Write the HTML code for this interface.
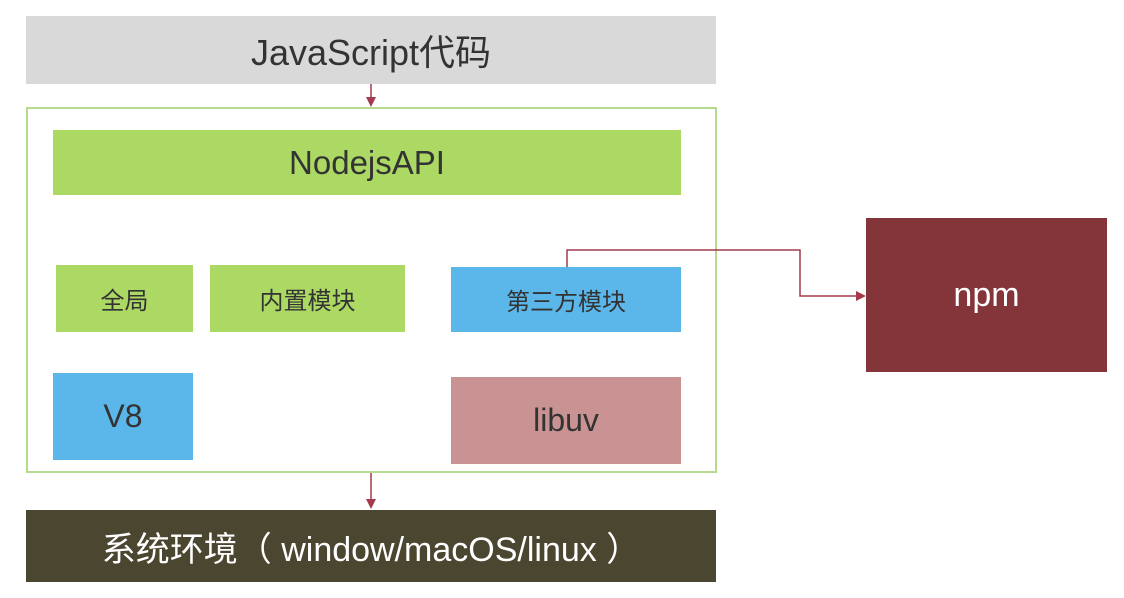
<!DOCTYPE html>
<html><head><meta charset="utf-8"><style>
body{margin:0;width:1124px;height:598px;background:#fff;position:relative;overflow:hidden;font-family:"Liberation Sans","Noto Sans CJK SC",sans-serif}
.b{position:absolute;display:flex;align-items:center;justify-content:center;box-sizing:border-box}
</style></head><body>
<div class="b" style="left:26px;top:16px;width:690px;height:68px;background:#d9d9d9;color:#333;font-size:36px">JavaScript代码</div>
<div class="b" style="left:26px;top:107px;width:691px;height:366px;border:2px solid #b5dc8e"></div>
<div class="b" style="left:53px;top:130px;width:628px;height:65px;background:#acd864;color:#333;font-size:33px">NodejsAPI</div>
<div class="b" style="left:56px;top:265px;width:137px;height:67px;background:#acd864;color:#333;font-size:24px">全局</div>
<div class="b" style="left:210px;top:265px;width:195px;height:67px;background:#acd864;color:#333;font-size:24px">内置模块</div>
<div class="b" style="left:451px;top:267px;width:230px;height:65px;background:#5bb6ea;color:#333;font-size:24px">第三方模块</div>
<div class="b" style="left:53px;top:373px;width:140px;height:87px;background:#5bb6ea;color:#333;font-size:32px">V8</div>
<div class="b" style="left:451px;top:377px;width:230px;height:87px;background:#c99394;color:#333;font-size:32px">libuv</div>
<div class="b" style="left:866px;top:218px;width:241px;height:154px;background:#84353a;color:#fff;font-size:34px">npm</div>
<div class="b" style="left:26px;top:510px;width:690px;height:72px;background:#4b4630;color:#fff;font-size:34px">系统环境（ window/macOS/linux ）</div>
<svg width="1124" height="598" style="position:absolute;left:0;top:0">
<g stroke="#a33a4e" stroke-width="1.5" fill="none">
<line x1="371" y1="84" x2="371" y2="99"/>
<line x1="371" y1="473" x2="371" y2="500"/>
<polyline points="567,267 567,250 800,250 800,296 857,296"/>
</g>
<g fill="#a33a4e">
<polygon points="366,97 376,97 371,107"/>
<polygon points="366,499 376,499 371,509"/>
<polygon points="856,291 856,301 866,296"/>
</g>
</svg>
</body></html>
